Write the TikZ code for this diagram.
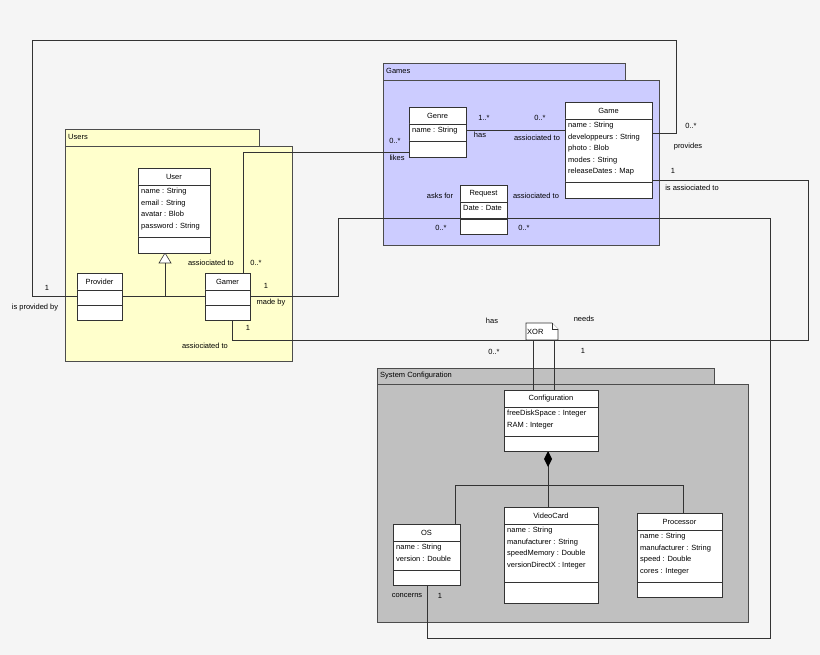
\documentclass[tikz,border=0pt]{standalone}
\usepackage{fontspec}
\setmainfont{Liberation Sans}
\usetikzlibrary{arrows.meta,shapes.geometric}
\definecolor{bgc}{HTML}{F5F5F5}
\definecolor{usersc}{HTML}{FFFFCC}
\definecolor{gamesc}{HTML}{CCCCFF}
\definecolor{confc}{HTML}{C0C0C0}
\tikzset{
  lbl/.style={font=\fontsize{7.5}{9}\selectfont, inner sep=0pt},
  pkg/.style={draw=black!70, line width=0.6pt},
  link/.style={draw=black!80, line width=0.6pt},
  box/.style={draw=black!80, fill=white, line width=0.6pt}
}
% classe UML: nombre, x1, y1, x2, y2, linea titulo, linea atributos, titulo, atributos
\newcommand{\umlClass}[9]{
  \draw[box] (#2,#3) rectangle (#4,#5);
  \draw[box] (#2,#6) -- (#4,#6);
  \draw[box] (#2,#7) -- (#4,#7);
  \coordinate (#1-nw) at (#2,#3);
  \coordinate (#1-se) at (#4,#5);
  \node[lbl, anchor=center] (#1) at ({(#2+#4)/2},{(#3+#6)/2}) {#8};
  \node[lbl, anchor=north west, align=left, font=\fontsize{7.5}{11.5}\selectfont] (#1-attr) at ({#2+3},{#6+3}) {#9};
}
% paquete: x1, y1 (pestana), x2 pestana, y2 pestana, x2 cuerpo, y2 cuerpo, color
\newcommand{\umlPackage}[7]{
  \draw[pkg, fill=#7] (#1,#2) rectangle (#3,#4);
  \draw[pkg, fill=#7] (#1,#4) rectangle (#5,#6);
}
\begin{document}
\begin{tikzpicture}[x=1pt,y=-1pt]
  \fill[bgc] (0,0) rectangle (820,655);
  \useasboundingbox (0,0) rectangle (820,655);

  % Paquetes
  \umlPackage{65}{129}{259}{146}{292}{361}{usersc}
  \node[lbl, anchor=west] (users) at (68,137) {Users};
  \umlPackage{383}{63}{625}{80}{659}{245}{gamesc}
  \node[lbl, anchor=west] (games) at (386,71) {Games};
  \umlPackage{377}{368}{714}{384}{748}{622}{confc}
  \node[lbl, anchor=west] (sysconf) at (380,376) {System Configuration};

  % Conectores
  \coordinate (provL) at (77,296);
  \coordinate (gameR1) at (652,133);
  \draw[link] (provL) -- (32,296) -- (32,40) -- (676,40) -- (676,133) -- (gameR1);
  \draw[link] (122,296) -- (205,296);
  \draw[link] (165,296) -- (165,262);
  \draw[link] (243,273) -- (243,152) -- (409,152);
  \draw[link] (466,130) -- (565,130);
  \draw[link] (250,296) -- (338,296) -- (338,218) -- (770,218) -- (770,638) -- (427,638) -- (427,585);
  \draw[link] (232,320) -- (232,340) -- (808,340) -- (808,180) -- (652,180);
  \draw[link] (533,340) -- (533,390);
  \draw[link] (554,340) -- (554,390);
  \draw[link] (548,451) -- (548,485);
  \draw[link] (455,524) -- (455,485) -- (683,485) -- (683,513);
  \draw[link] (548,485) -- (548,507);
  % generalizacion y composicion
  \draw[box] (165,253) -- (159,263) -- (171,263) -- cycle;
  \fill[black] (548,451) -- (552,459) -- (548,467) -- (544,459) -- cycle;

  % Clases
  \umlClass{user}{138}{168}{210}{253}{185}{237}{User}{name : String\\email : String\\avatar : Blob\\password : String}
  \umlClass{provider}{77}{273}{122}{320}{290}{305}{Provider}{}
  \umlClass{gamer}{205}{273}{250}{320}{290}{305}{Gamer}{}
  \umlClass{genre}{409}{107}{466}{157}{124}{141}{Genre}{name : String}
  \umlClass{game}{565}{102}{652}{198}{119}{182}{Game}{name : String\\developpeurs : String\\photo : Blob\\modes : String\\releaseDates : Map}
  \umlClass{request}{460}{185}{507}{234}{202}{219}{Request}{Date : Date}
  \draw[link] (460,218) -- (507,218);
  \umlClass{config}{504}{390}{598}{451}{407}{436}{Configuration}{freeDiskSpace : Integer\\RAM : Integer}
  \umlClass{os}{393}{524}{460}{585}{541}{570}{OS}{name : String\\version : Double}
  \umlClass{videocard}{504}{507}{598}{603}{524}{582}{VideoCard}{name : String\\manufacturer : String\\speedMemory : Double\\versionDirectX : Integer}
  \umlClass{processor}{637}{513}{722}{597}{530}{582}{Processor}{name : String\\manufacturer : String\\speed : Double\\cores : Integer}

  % Nota XOR
  \draw[box] (526,323) -- (552,323) -- (558,329) -- (558,340) -- (526,340) -- cycle;
  \draw[box] (552,323) -- (552,329) -- (558,329);
  \node[lbl, anchor=west] (xor) at (527,332) {XOR};

  % Etiquetas
  \node[lbl] (l1) at (47,288) {1};
  \node[lbl] (l2) at (35,308) {is provided by};
  \node[lbl] (l3) at (691,126) {0..*};
  \node[lbl] (l4) at (688,147) {provides};
  \node[lbl] (l5) at (211,263) {assiociated to};
  \node[lbl] (l6) at (256,263) {0..*};
  \node[lbl] (l7) at (395,141) {0..*};
  \node[lbl] (l8) at (397,158) {likes};
  \node[lbl] (l9) at (484,118) {1..*};
  \node[lbl] (l10) at (480,135) {has};
  \node[lbl] (l11) at (540,118) {0..*};
  \node[lbl] (l12) at (537,138) {assiociated to};
  \node[lbl] (l13) at (440,196) {asks for};
  \node[lbl] (l14) at (441,228) {0..*};
  \node[lbl] (l15) at (536,196) {assiociated to};
  \node[lbl] (l16) at (524,228) {0..*};
  \node[lbl] (l17) at (266,286) {1};
  \node[lbl] (l18) at (271,303) {made by};
  \node[lbl] (l19) at (248,328) {1};
  \node[lbl] (l20) at (205,346) {assiociated to};
  \node[lbl] (l21) at (673,171) {1};
  \node[lbl] (l22) at (692,188) {is assiociated to};
  \node[lbl] (l23) at (492,321) {has};
  \node[lbl] (l24) at (494,352) {0..*};
  \node[lbl] (l25) at (584,319) {needs};
  \node[lbl] (l26) at (583,351) {1};
  \node[lbl] (l27) at (407,596) {concerns};
  \node[lbl] (l28) at (440,596) {1};
\end{tikzpicture}
\end{document}
